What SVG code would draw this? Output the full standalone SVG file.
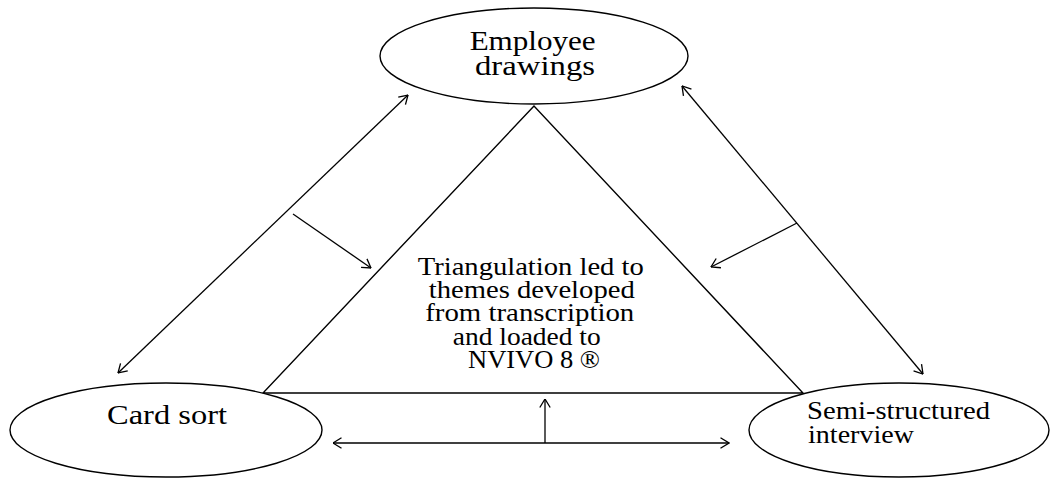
<svg xmlns="http://www.w3.org/2000/svg" width="1050" height="478" viewBox="0 0 1050 478">
  <style>
    .shape { fill: #ffffff; stroke: #000000; stroke-width: 1.4; }
    .tri { fill: none; stroke: #000000; stroke-width: 1.4; }
    .conn { fill: none; stroke: #000000; stroke-width: 1.3; }
    .lbl { font-family: "Liberation Serif", "Times New Roman", serif; font-size: 26px; fill: #000000; }
    .big { font-size: 27px; }
  </style>
  <defs>
    <marker id="arr" viewBox="0 0 10 12" refX="9.5" refY="6" markerWidth="10" markerHeight="12" markerUnits="userSpaceOnUse" orient="auto-start-reverse">
      <path d="M1,0.8 L9.5,6 L1,11.2" fill="none" stroke="#000000" stroke-width="1.3"/>
    </marker>
  </defs>
  <rect width="1050" height="478" fill="#ffffff"/>

  <g id="node-triangle">
    <polygon class="tri" points="534,106 263,393 803,393"/>
    <text class="lbl" text-anchor="middle">
      <tspan x="534" y="275" textLength="226" lengthAdjust="spacingAndGlyphs">Triangulation led to</tspan>
      <tspan x="535" y="298" textLength="206" lengthAdjust="spacingAndGlyphs">themes developed</tspan>
      <tspan x="533" y="321" textLength="209" lengthAdjust="spacingAndGlyphs">from transcription</tspan>
      <tspan x="530" y="345" textLength="148" lengthAdjust="spacingAndGlyphs">and loaded to</tspan>
      <tspan x="534" y="368" textLength="132" lengthAdjust="spacingAndGlyphs">NVIVO 8 ®</tspan>
    </text>
  </g>

  <g id="node-employee-drawings">
    <ellipse class="shape" cx="534" cy="56" rx="154" ry="48"/>
    <text class="lbl big" text-anchor="middle">
      <tspan x="536" y="50" textLength="126" lengthAdjust="spacingAndGlyphs">Employee</tspan>
      <tspan x="535" y="75" textLength="120" lengthAdjust="spacingAndGlyphs">drawings</tspan>
    </text>
  </g>

  <g id="node-card-sort">
    <ellipse class="shape" cx="166" cy="430" rx="156" ry="47"/>
    <text class="lbl big" text-anchor="middle" x="167" y="424" textLength="120" lengthAdjust="spacingAndGlyphs">Card sort</text>
  </g>

  <g id="node-semi-structured">
    <ellipse class="shape" cx="899" cy="430" rx="150" ry="47"/>
    <text class="lbl">
      <tspan x="807" y="419" textLength="183" lengthAdjust="spacingAndGlyphs">Semi-structured</tspan>
      <tspan x="808" y="443" textLength="106" lengthAdjust="spacingAndGlyphs">interview</tspan>
    </text>
  </g>

  <g id="connectors">
    <line class="conn" x1="118" y1="373" x2="408" y2="95" marker-start="url(#arr)" marker-end="url(#arr)"/>
    <line class="conn" x1="682" y1="86" x2="923" y2="374" marker-start="url(#arr)" marker-end="url(#arr)"/>
    <line class="conn" x1="293" y1="214" x2="371" y2="268" marker-end="url(#arr)"/>
    <line class="conn" x1="797" y1="223" x2="711" y2="267" marker-end="url(#arr)"/>
    <line class="conn" x1="333" y1="443" x2="729" y2="443" marker-start="url(#arr)" marker-end="url(#arr)"/>
    <line class="conn" x1="545" y1="443" x2="545" y2="399" marker-end="url(#arr)"/>
  </g>
</svg>
